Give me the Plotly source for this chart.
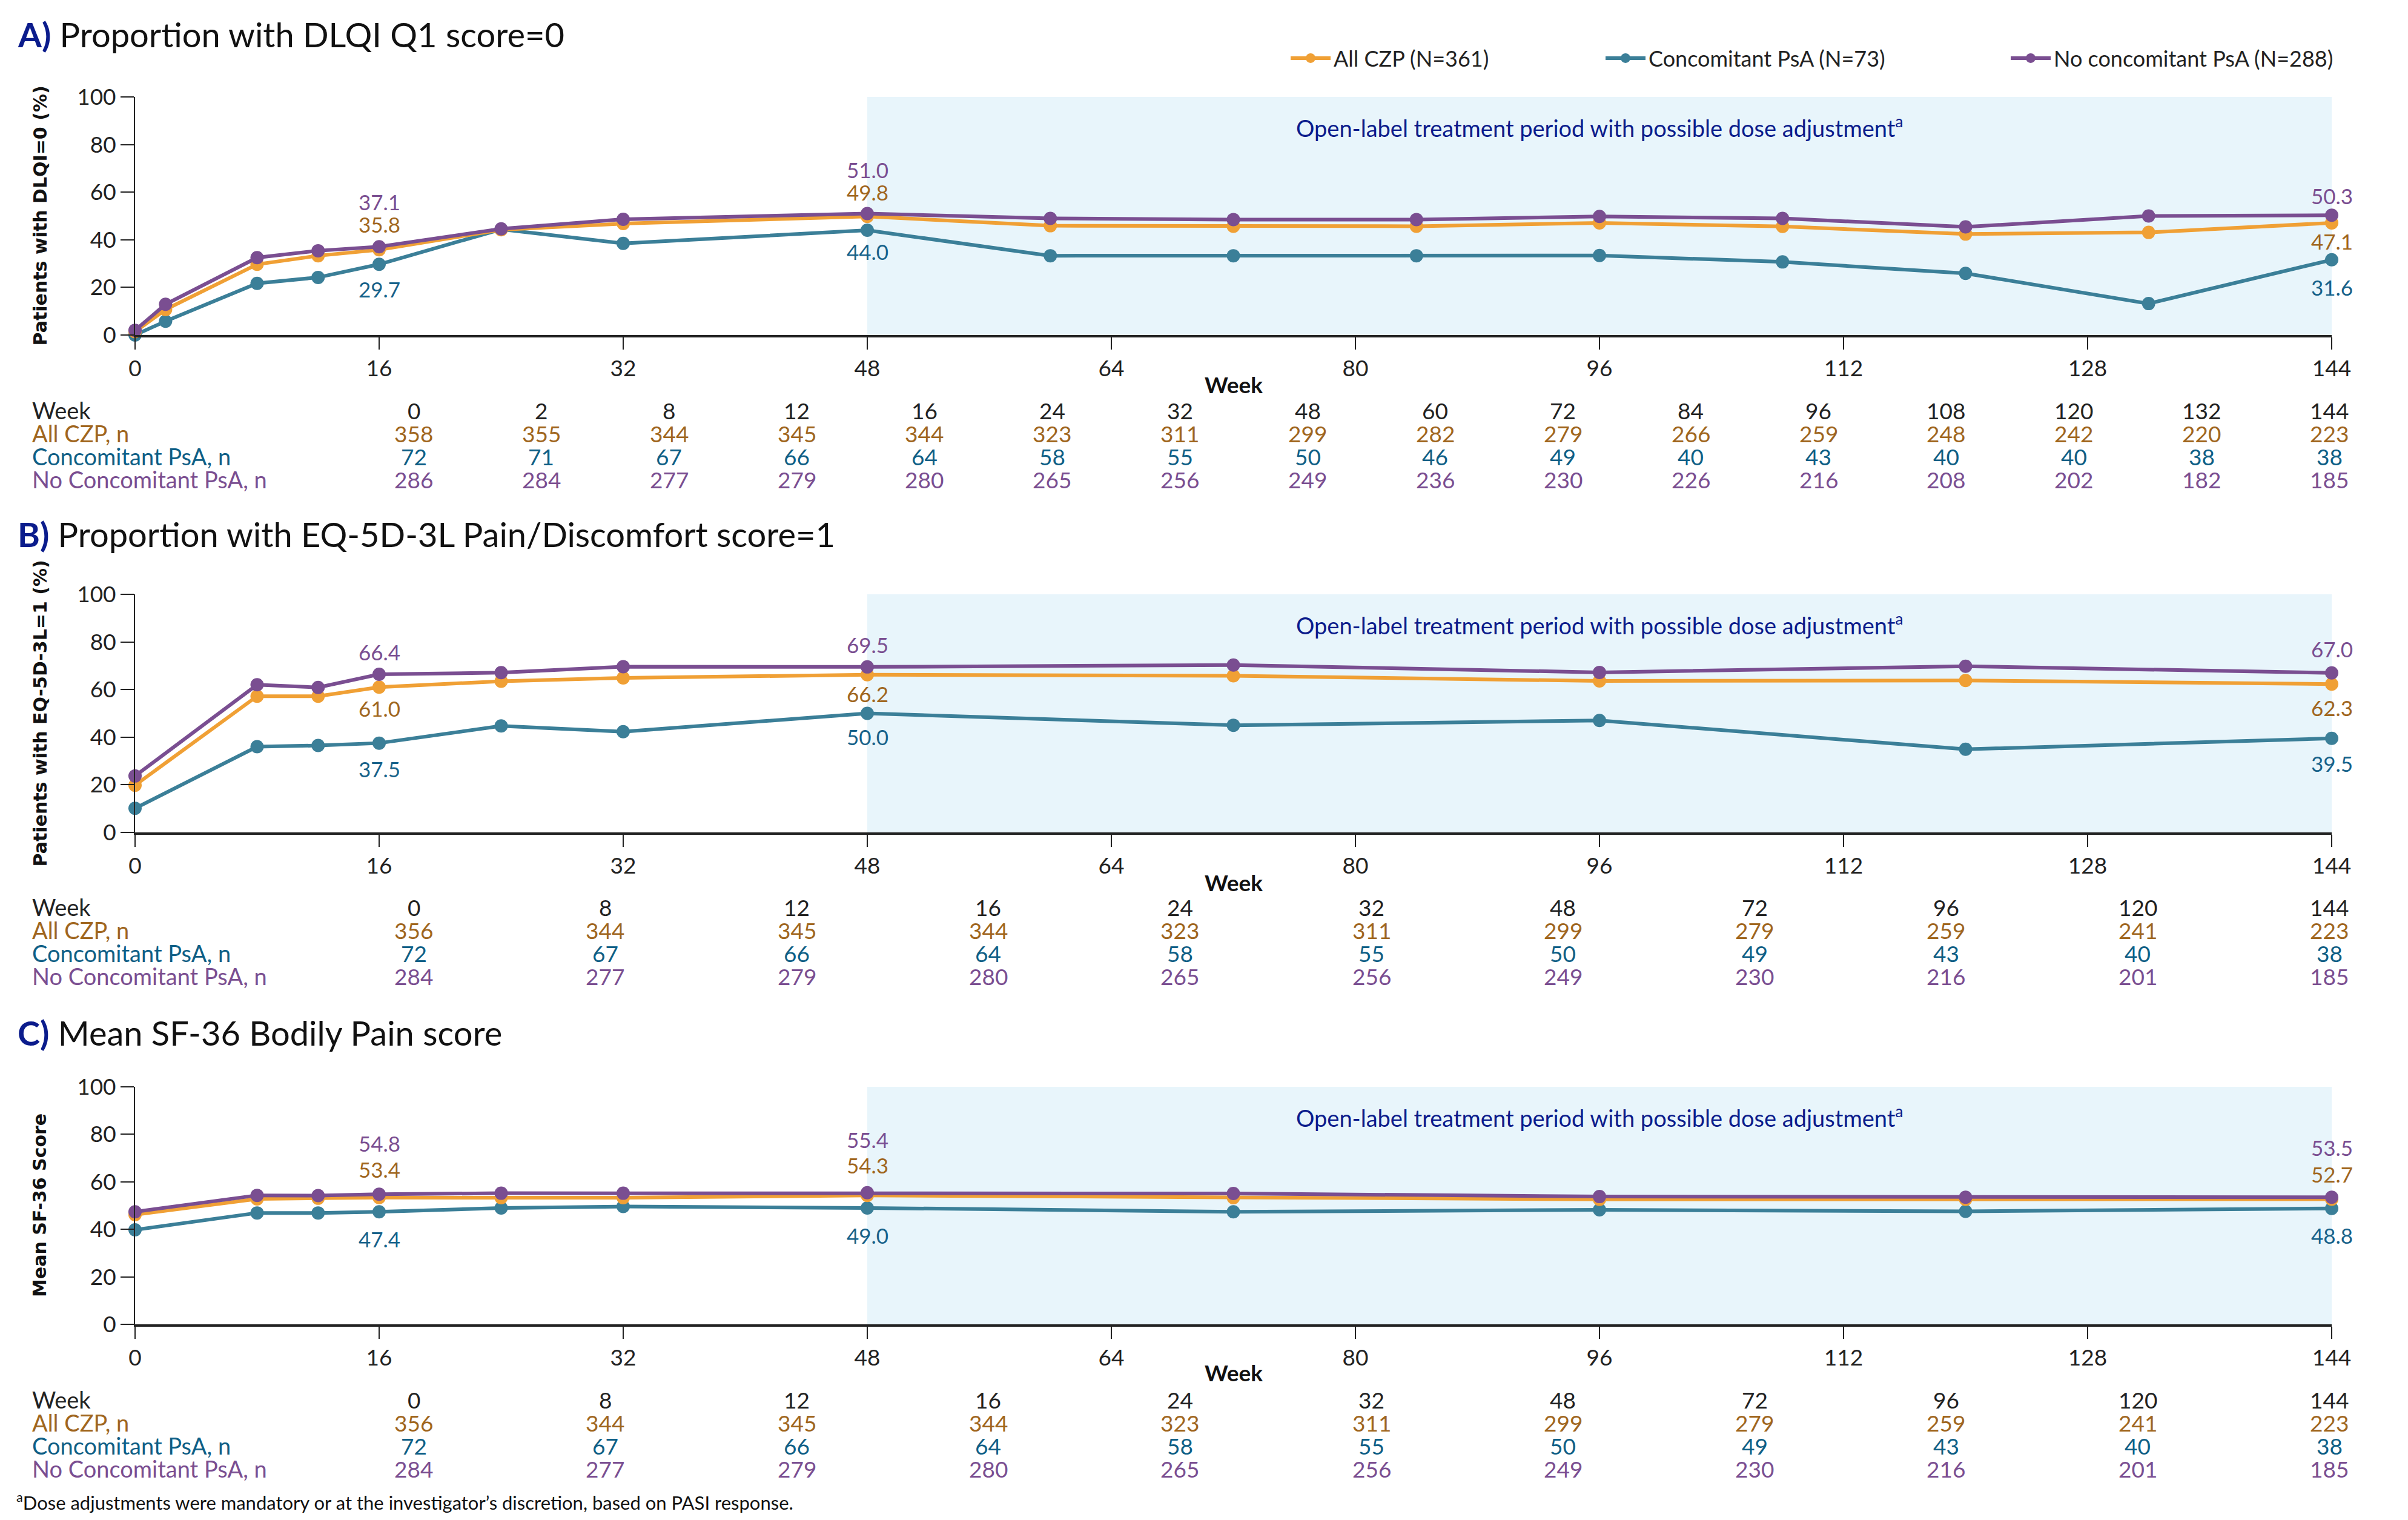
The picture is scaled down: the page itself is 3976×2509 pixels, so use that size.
import plotly.graph_objects as go

# ---------------- data ----------------
weeks_A = [0, 2, 8, 12, 16, 24, 32, 48, 60, 72, 84, 96, 108, 120, 132, 144]
A_all = [1.4, 10.7, 29.7, 33.3, 35.8, 44.2, 46.8, 49.8, 45.9, 45.7, 45.7, 47.1, 45.6, 42.4, 43.1, 47.1]
A_conc = [0.0, 5.8, 21.7, 24.2, 29.7, 44.4, 38.5, 44.0, 33.3, 33.3, 33.3, 33.4, 30.7, 25.9, 13.2, 31.6]
A_noconc = [2.0, 12.9, 32.5, 35.4, 37.1, 44.6, 48.6, 51.0, 49.0, 48.5, 48.5, 49.8, 49.0, 45.4, 50.0, 50.3]

weeks_BC = [0, 8, 12, 16, 24, 32, 48, 72, 96, 120, 144]
B_all = [19.8, 57.2, 57.2, 61.0, 63.5, 64.9, 66.2, 65.8, 63.6, 63.8, 62.3]
B_conc = [10.1, 36.0, 36.5, 37.5, 44.7, 42.3, 50.0, 45.0, 47.0, 34.9, 39.5]
B_noconc = [23.7, 62.0, 60.9, 66.4, 67.1, 69.6, 69.5, 70.3, 67.2, 69.8, 67.0]

C_all = [46.2, 52.8, 53.1, 53.4, 53.3, 53.3, 54.3, 53.3, 52.6, 52.6, 52.7]
C_conc = [39.8, 46.9, 46.9, 47.4, 49.0, 49.6, 49.0, 47.4, 48.2, 47.6, 48.8]
C_noconc = [47.4, 54.3, 54.2, 54.8, 55.2, 55.2, 55.4, 55.1, 53.8, 53.5, 53.5]

series_names = ["All CZP (N=361)", "Concomitant PsA (N=73)", "No concomitant PsA (N=288)"]
row_labels = ["Week", "All CZP, n", "Concomitant PsA, n", "No Concomitant PsA, n"]

tableA_weeks = [0, 2, 8, 12, 16, 24, 32, 48, 60, 72, 84, 96, 108, 120, 132, 144]
tableA_all = [358, 355, 344, 345, 344, 323, 311, 299, 282, 279, 266, 259, 248, 242, 220, 223]
tableA_conc = [72, 71, 67, 66, 64, 58, 55, 50, 46, 49, 40, 43, 40, 40, 38, 38]
tableA_noconc = [286, 284, 277, 279, 280, 265, 256, 249, 236, 230, 226, 216, 208, 202, 182, 185]

tableB_weeks = [0, 8, 12, 16, 24, 32, 48, 72, 96, 120, 144]
tableB_all = [356, 344, 345, 344, 323, 311, 299, 279, 259, 241, 223]
tableB_conc = [72, 67, 66, 64, 58, 55, 50, 49, 43, 40, 38]
tableB_noconc = [284, 277, 279, 280, 265, 256, 249, 230, 216, 201, 185]

tableC_weeks = [0, 8, 12, 16, 24, 32, 48, 72, 96, 120, 144]
tableC_all = [356, 344, 345, 344, 323, 311, 299, 279, 259, 241, 223]
tableC_conc = [72, 67, 66, 64, 58, 55, 50, 49, 43, 40, 38]
tableC_noconc = [284, 277, 279, 280, 265, 256, 249, 230, 216, 201, 185]

labeled_weeks = [16, 48, 144]
x_ticks = [0, 16, 32, 48, 64, 80, 96, 112, 128, 144]
y_ticks = [0, 20, 40, 60, 80, 100]

# ---------------- style ----------------
PAGE_W, PAGE_H = 3976, 2509
OFF = 8                      # default body margin of the html page
W, H = PAGE_W - 2 * OFF, PAGE_H - 2 * OFF
FONT = "Lato"
line_colors = ["#F0A035", "#3B7F98", "#7A4E91"]
label_colors = ["#A0661E", "#17628A", "#7A4E91"]
row_colors = ["#222222", "#A0661E", "#0F5F86", "#7A4E91"]
NAVY = "#0B1C8C"
SHADE = "#E8F5FB"

X0, X1 = 223, 3850
def py(p):
    return 1 - (p - OFF) / H
def pxx(p):
    return (p - OFF) / W

panels = [
    dict(letter="A)", title=" Proportion with DLQI Q1 score=0", ytitle="Patients with DLQI=0 (%)",
         weeks=weeks_A, series=[A_all, A_conc, A_noconc], top=160, bot=553, title_y=56,
         week_title_y=634, rows_y=[677, 715, 753, 791],
         table=[tableA_weeks, tableA_all, tableA_conc, tableA_noconc],
         shifts=[[42, 40, -30], [-41, -35, -45], [74, 73, 32]]),
    dict(letter="B)", title=" Proportion with EQ-5D-3L Pain/Discomfort score=1", ytitle="Patients with EQ-5D-3L=1 (%)",
         weeks=weeks_BC, series=[B_all, B_conc, B_noconc], top=981, bot=1374, title_y=881,
         week_title_y=1456, rows_y=[1497, 1535, 1573, 1611],
         table=[tableB_weeks, tableB_all, tableB_conc, tableB_noconc],
         shifts=[[-35, -31, -39], [-42, -38, -41], [37, 37, 40]]),
    dict(letter="C)", title=" Mean SF-36 Bodily Pain score", ytitle="Mean SF-36 Score",
         weeks=weeks_BC, series=[C_all, C_conc, C_noconc], top=1794, bot=2186, title_y=1704,
         week_title_y=2265, rows_y=[2310, 2348, 2386, 2424],
         table=[tableC_weeks, tableC_all, tableC_conc, tableC_noconc],
         shifts=[[47, 50, 41], [-45, -45, -44], [84, 88, 82]]),
]

fig = go.Figure()
annotations = []
shapes = []
layout_axes = {}

draw_order = [1, 0, 2]
for pi, p in enumerate(panels):
    sfx = "" if pi == 0 else str(pi + 1)
    xref = "x" + sfx
    yref = "y" + sfx
    for si in draw_order:
        legend_id = ["legend", "legend2", "legend3"][si]
        fig.add_trace(go.Scatter(
            x=p["weeks"], y=p["series"][si], mode="lines+markers",
            name=series_names[si],
            line=dict(color=line_colors[si], width=6),
            marker=dict(color=line_colors[si], size=22),
            xaxis=xref, yaxis=yref, cliponaxis=False,
            showlegend=(pi == 0), legend=legend_id,
            hoverinfo="skip",
        ))
        for li, wk in enumerate(labeled_weeks):
            idx = p["weeks"].index(wk)
            val = p["series"][si][idx]
            annotations.append(dict(
                x=wk, y=val, xref=xref, yref=yref, text=f"{val:.1f}",
                showarrow=False, yshift=p["shifts"][si][li], xanchor="center", yanchor="middle",
                font=dict(family=FONT, size=35, color=label_colors[si])))

    layout_axes["xaxis" + sfx] = dict(
        domain=[pxx(X0), pxx(X1)], range=[0, 144], anchor=yref, tickvals=x_ticks,
        ticks="outside", ticklen=20, tickwidth=2, tickcolor="#222", showline=True,
        linecolor="#222", linewidth=4, showgrid=False, zeroline=False, automargin=False,
        tickfont=dict(family=FONT, size=37, color="#222"))
    layout_axes["yaxis" + sfx] = dict(
        domain=[py(p["bot"]), py(p["top"])], range=[0, 100], anchor=xref, tickvals=y_ticks,
        ticks="outside", ticklen=22, tickwidth=2, tickcolor="#222", showline=True,
        linecolor="#222", linewidth=2, showgrid=False, zeroline=False, automargin=False,
        tickfont=dict(family=FONT, size=37, color="#222"))

    shapes.append(dict(type="rect", xref=xref, yref=yref, x0=48, x1=144, y0=0, y1=100,
                       fillcolor=SHADE, line=dict(width=0), layer="below"))
    annotations.append(dict(x=96, y=87.5, xref=xref, yref=yref,
                            text="Open-label treatment period with possible dose adjustment<sup>a</sup>",
                            showarrow=False, xanchor="center", yanchor="middle",
                            font=dict(family=FONT, size=38, color=NAVY)))
    annotations.append(dict(x=pxx(27), y=py(p["title_y"]), xref="paper", yref="paper",
                            text=f"<b><span style='color:{NAVY}'>{p['letter']}</span></b>{p['title']}",
                            showarrow=False, xanchor="left", yanchor="middle",
                            font=dict(family=FONT, size=56, color="#111")))
    annotations.append(dict(x=pxx(66), y=py((p["top"] + p["bot"]) / 2), xref="paper", yref="paper",
                            text=f"<b>{p['ytitle']}</b>", textangle=-90, showarrow=False,
                            xanchor="center", yanchor="middle",
                            font=dict(family="DejaVu Sans", size=30, color="#111")))
    annotations.append(dict(x=pxx((X0 + X1) / 2), y=py(p["week_title_y"]), xref="paper", yref="paper",
                            text="<b>Week</b>", showarrow=False, xanchor="center", yanchor="middle",
                            font=dict(family=FONT, size=37, color="#111")))
    ncol = len(p["table"][0])
    c0, c1 = 683, 3846
    for ri in range(4):
        annotations.append(dict(x=pxx(51), y=py(p["rows_y"][ri]), xref="paper", yref="paper",
                                text=row_labels[ri], showarrow=False, xanchor="left", yanchor="middle",
                                font=dict(family=FONT, size=38, color=row_colors[ri])))
        for ci, v in enumerate(p["table"][ri]):
            cx = c0 + ci * (c1 - c0) / (ncol - 1)
            annotations.append(dict(x=pxx(cx), y=py(p["rows_y"][ri]), xref="paper", yref="paper",
                                    text=str(v), showarrow=False, xanchor="center", yanchor="middle",
                                    font=dict(family=FONT, size=37, color=row_colors[ri])))

annotations.append(dict(x=pxx(25), y=0, xref="paper", yref="paper",
                        text="<sup>a</sup>Dose adjustments were mandatory or at the investigator\u2019s discretion, based on PASI response.",
                        showarrow=False, xanchor="left", yanchor="bottom",
                        font=dict(family=FONT, size=31, color="#111")))

legend_common = dict(orientation="h", yanchor="middle", xanchor="left", y=py(96),
                     font=dict(family=FONT, size=36, color="#222"), itemwidth=66,
                     bgcolor="rgba(0,0,0,0)", borderwidth=0)
fig.update_layout(
    template="none",
    width=W, height=H, margin=dict(l=0, r=0, t=0, b=0, pad=0, autoexpand=False),
    paper_bgcolor="white", plot_bgcolor="white",
    legend=dict(x=pxx(2146 - 20), **legend_common),
    legend2=dict(x=pxx(2666 - 20), **legend_common),
    legend3=dict(x=pxx(3335 - 20), **legend_common),
    annotations=annotations, shapes=shapes,
    **layout_axes,
)

fig.write_html("out.html")
